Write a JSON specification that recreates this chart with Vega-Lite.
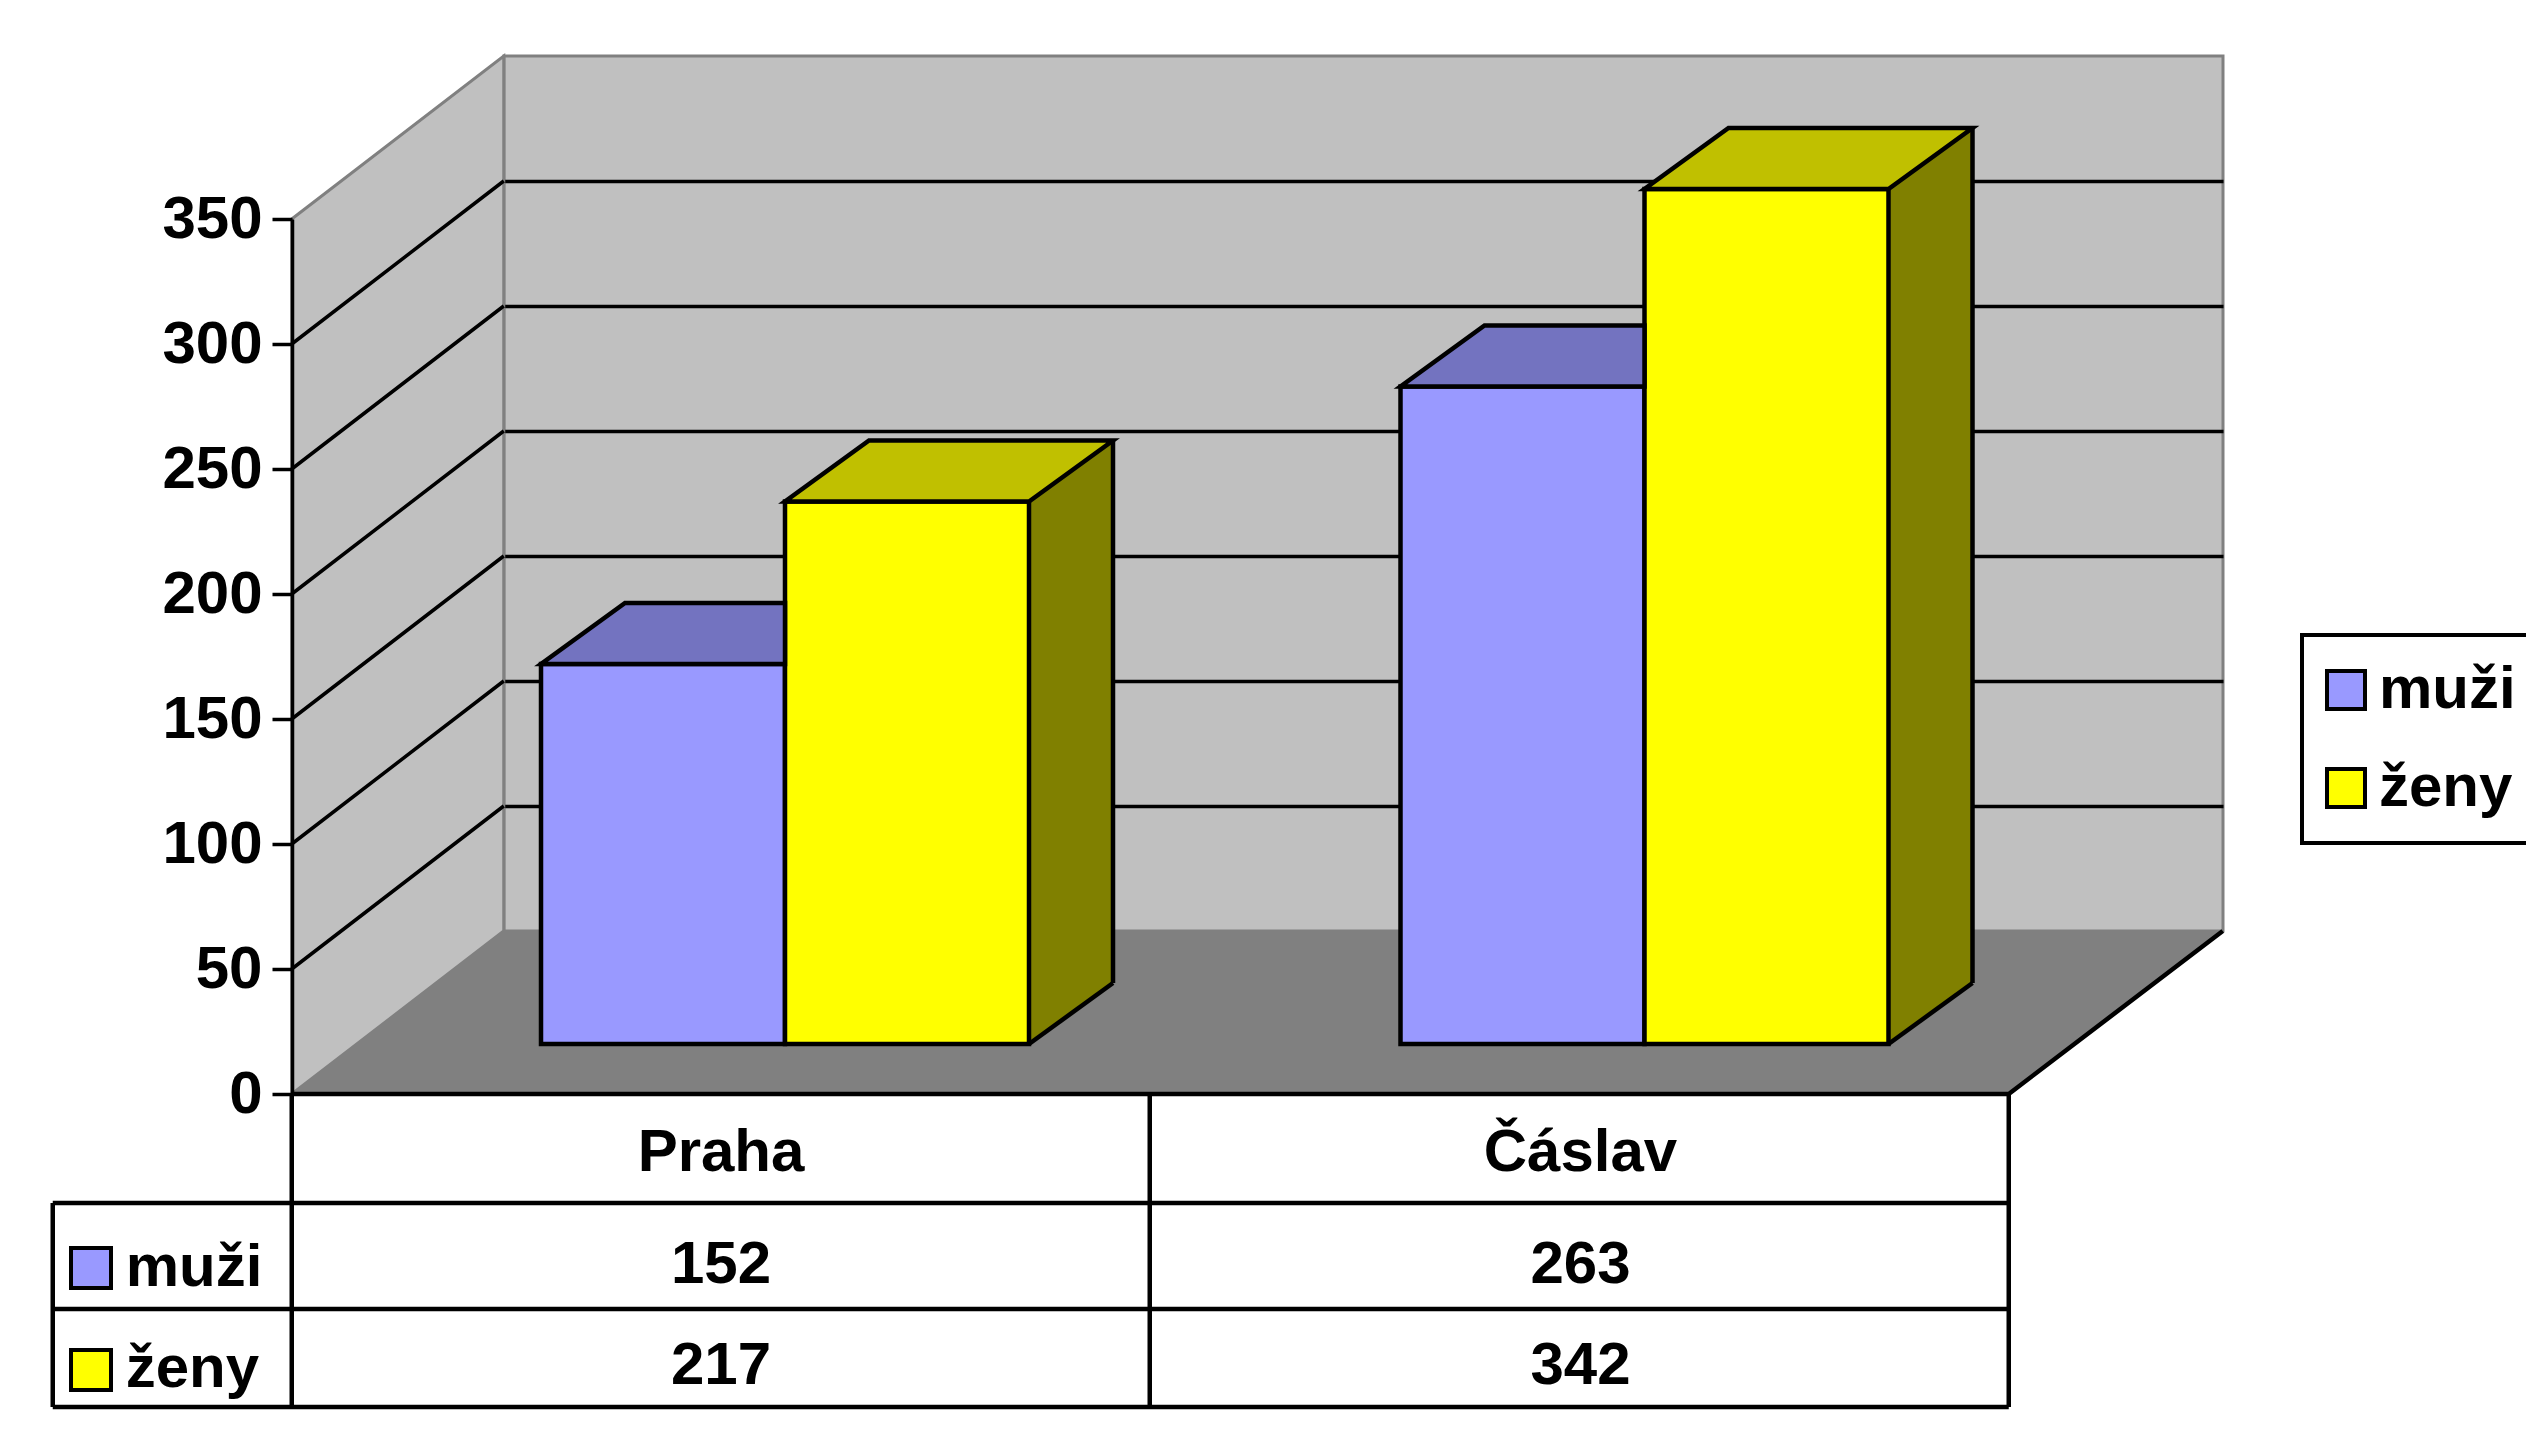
{
  "$schema": "https://vega.github.io/schema/vega-lite/v6.json",
  "width": 1719,
  "height": 875,
  "autosize": {"type": "none"},
  "padding": {"left": 504, "top": 56, "right": 303, "bottom": 506},
  "background": "white",
  "view": {"fill": "#C0C0C0", "stroke": "#808080", "strokeWidth": 3},
  "data": {
    "values": [
      {"mesto": "Praha", "pohlavi": "muži", "pocet": 152},
      {"mesto": "Praha", "pohlavi": "ženy", "pocet": 217},
      {"mesto": "Čáslav", "pohlavi": "muži", "pocet": 263},
      {"mesto": "Čáslav", "pohlavi": "ženy", "pocet": 342}
    ]
  },
  "resolve": {"axis": {"y": "independent"}},
  "config": {
    "font": "Liberation Sans",
    "axisX": {"disable": true},
    "legend": {"strokeWidth": 4}
  },
  "layer": [
    {
      "transform": [{"filter": "datum.mesto === 'Praha' && datum.pohlavi === 'muži'"}],
      "mark": {"type": "point", "shape": "M-642,163L1075,163L1289,0L-430,0Z", "size": 4, "filled": true, "fill": "#808080", "strokeWidth": 0, "opacity": 1},
      "encoding": {
        "x": {"field": "mesto", "type": "nominal", "scale": {"type": "band", "domain": ["Praha", "Čáslav"], "paddingInner": 0, "paddingOuter": 0}, "axis": null},
        "y": {"datum": 0, "type": "quantitative", "scale": {"domain": [0, 350], "nice": false}, "axis": null}
      }
    },
    {
      "transform": [{"filter": "datum.mesto === 'Praha' && datum.pohlavi === 'muži'"}],
      "mark": {"type": "point", "shape": "M-642,-712L-430,-875L-430,0L-642,163Z", "size": 4, "filled": true, "fill": "#C0C0C0", "stroke": "#808080", "strokeWidth": 3, "opacity": 1},
      "encoding": {
        "x": {"field": "mesto", "type": "nominal", "axis": null},
        "y": {"datum": 0, "type": "quantitative", "axis": null}
      }
    },
    {
      "transform": [{"filter": "datum.mesto === 'Praha' && datum.pohlavi === 'muži'"}],
      "mark": {"type": "point", "shape": "M-642,38L-430,-125M-642,-87L-430,-250M-642,-212L-430,-375M-642,-337L-430,-500M-642,-462L-430,-625M-642,-587L-430,-750", "size": 4, "filled": false, "stroke": "black", "strokeWidth": 3.5, "opacity": 1},
      "encoding": {
        "x": {"field": "mesto", "type": "nominal", "axis": null},
        "y": {"datum": 0, "type": "quantitative", "axis": null}
      }
    },
    {
      "transform": [{"filter": "datum.pohlavi === 'ženy'"}],
      "mark": {"type": "bar", "width": 244, "xOffset": 57.25, "yOffset": 52, "y2Offset": 52, "fill": "#808000", "strokeWidth": 0},
      "encoding": {
        "x": {"field": "mesto", "type": "nominal", "axis": null},
        "y": {"field": "pocet", "type": "quantitative", "axis": null}
      }
    },
    {
      "transform": [{"filter": "datum.pohlavi === 'ženy'"}],
      "mark": {"type": "point", "shape": "M122,113L122,52L206,52Z", "size": 4, "filled": true, "fill": "#808000", "strokeWidth": 0, "xOffset": -26.75, "opacity": 1},
      "encoding": {
        "x": {"field": "mesto", "type": "nominal", "axis": null},
        "y": {"datum": 0, "type": "quantitative", "axis": null}
      }
    },
    {
      "transform": [{"filter": "datum.pohlavi === 'ženy'"}],
      "mark": {"type": "point", "shape": "M122,113L206,52", "size": 4, "filled": false, "stroke": "black", "strokeWidth": 4.5, "xOffset": -26.75, "opacity": 1},
      "encoding": {
        "x": {"field": "mesto", "type": "nominal", "axis": null},
        "y": {"datum": 0, "type": "quantitative", "axis": null}
      }
    },
    {
      "transform": [{"filter": "datum.pohlavi === 'ženy'"}],
      "mark": {"type": "rule", "xOffset": 179.25, "yOffset": 52, "y2Offset": 52, "stroke": "black", "strokeWidth": 4.5},
      "encoding": {
        "x": {"field": "mesto", "type": "nominal", "axis": null},
        "y": {"field": "pocet", "type": "quantitative", "axis": null},
        "y2": {"datum": 0}
      }
    },
    {
      "transform": [{"filter": "datum.pohlavi === 'muži'"}],
      "mark": {"type": "bar", "width": 244, "xOffset": -270.75, "yOffset": 113, "y2Offset": 113, "stroke": "black", "strokeWidth": 4.5},
      "encoding": {
        "x": {"field": "mesto", "type": "nominal", "axis": null},
        "y": {"field": "pocet", "type": "quantitative", "axis": {"orient": "left", "grid": true, "gridColor": "black", "gridWidth": 3.5, "labels": false, "ticks": false, "domain": false, "title": null, "values": [50, 100, 150, 200, 250, 300]}},
        "color": {
          "field": "pohlavi", "type": "nominal",
          "scale": {"domain": ["muži", "ženy"], "range": ["#9999FF", "#FFFF00"]},
          "legend": {"title": null, "orient": "none", "legendX": 1798, "legendY": 579, "symbolType": "square", "symbolSize": 1444, "symbolStrokeColor": "black", "symbolStrokeWidth": 4, "symbolOpacity": 1, "symbolOffset": -11, "labelFontSize": 60, "labelFontWeight": "bold", "labelColor": "black", "labelFont": "Liberation Sans", "padding": 25, "rowPadding": 38, "labelOffset": 3, "strokeColor": "black", "fillColor": "white", "labelLimit": 400}
        }
      }
    },
    {
      "transform": [{"filter": "datum.pohlavi === 'ženy'"}],
      "mark": {"type": "bar", "width": 244, "xOffset": -26.75, "yOffset": 113, "y2Offset": 113, "stroke": "black", "strokeWidth": 4.5},
      "encoding": {
        "x": {"field": "mesto", "type": "nominal", "axis": null},
        "y": {"field": "pocet", "type": "quantitative", "axis": {"orient": "left", "grid": false, "values": [0, 50, 100, 150, 200, 250, 300, 350], "offset": 212, "position": 163, "domainColor": "black", "domainWidth": 3.5, "tickColor": "black", "tickWidth": 3.5, "tickSize": 20, "labelFontSize": 60, "labelFontWeight": "bold", "labelColor": "black", "labelFont": "Liberation Sans", "labelPadding": 10, "labelFlush": false, "labelOverlap": false, "title": null, "zindex": 3}},
        "color": {"field": "pohlavi", "type": "nominal"}
      }
    },
    {
      "transform": [{"filter": "datum.pohlavi === 'muži'"}],
      "mark": {"type": "point", "shape": "M-122,113L122,113L122,52L-38,52Z", "size": 4, "filled": true, "fill": "#7373C0", "stroke": "black", "strokeWidth": 4.5, "xOffset": -270.75, "opacity": 1},
      "encoding": {
        "x": {"field": "mesto", "type": "nominal", "axis": null},
        "y": {"field": "pocet", "type": "quantitative", "axis": null}
      }
    },
    {
      "transform": [{"filter": "datum.pohlavi === 'ženy'"}],
      "mark": {"type": "point", "shape": "M-122,113L122,113L206,52L-38,52Z", "size": 4, "filled": true, "fill": "#C0C000", "stroke": "black", "strokeWidth": 4.5, "xOffset": -26.75, "opacity": 1},
      "encoding": {
        "x": {"field": "mesto", "type": "nominal", "axis": null},
        "y": {"field": "pocet", "type": "quantitative", "axis": null}
      }
    },
    {
      "transform": [{"filter": "datum.mesto === 'Praha' && datum.pohlavi === 'muži'"}],
      "mark": {"type": "point", "shape": "M-642,163L1075,163M-881,272L1075,272M-881,378L1075,378M-881,476L1075,476M-881,272L-881,476M-642,163L-642,476M216,163L216,476M1075,163L1075,476M1075,163L1289,0", "size": 4, "filled": false, "stroke": "black", "strokeWidth": 4.5, "opacity": 1},
      "encoding": {
        "x": {"field": "mesto", "type": "nominal", "axis": null},
        "y": {"datum": 0, "type": "quantitative", "axis": null}
      }
    },
    {
      "transform": [{"filter": "datum.pohlavi === 'muži'"}],
      "mark": {"type": "text", "xOffset": -212.75, "yOffset": 240, "baseline": "alphabetic", "align": "center", "fontSize": 60, "fontWeight": "bold", "fill": "black"},
      "encoding": {
        "x": {"field": "mesto", "type": "nominal", "axis": null},
        "y": {"datum": 0, "type": "quantitative", "axis": null},
        "text": {"field": "mesto"}
      }
    },
    {
      "transform": [{"filter": "datum.pohlavi === 'muži'"}],
      "mark": {"type": "text", "xOffset": -212.75, "yOffset": 352, "baseline": "alphabetic", "align": "center", "fontSize": 60, "fontWeight": "bold", "fill": "black"},
      "encoding": {
        "x": {"field": "mesto", "type": "nominal", "axis": null},
        "y": {"datum": 0, "type": "quantitative", "axis": null},
        "text": {"field": "pocet"}
      }
    },
    {
      "transform": [{"filter": "datum.pohlavi === 'ženy'"}],
      "mark": {"type": "text", "xOffset": -212.75, "yOffset": 453, "baseline": "alphabetic", "align": "center", "fontSize": 60, "fontWeight": "bold", "fill": "black"},
      "encoding": {
        "x": {"field": "mesto", "type": "nominal", "axis": null},
        "y": {"datum": 0, "type": "quantitative", "axis": null},
        "text": {"field": "pocet"}
      }
    },
    {
      "transform": [{"filter": "datum.mesto === 'Praha' && datum.pohlavi === 'muži'"}],
      "mark": {"type": "text", "xOffset": -808, "yOffset": 355, "baseline": "alphabetic", "align": "left", "fontSize": 60, "fontWeight": "bold", "fill": "black"},
      "encoding": {
        "x": {"field": "mesto", "type": "nominal", "axis": null},
        "y": {"datum": 0, "type": "quantitative", "axis": null},
        "text": {"field": "pohlavi"}
      }
    },
    {
      "transform": [{"filter": "datum.mesto === 'Praha' && datum.pohlavi === 'ženy'"}],
      "mark": {"type": "text", "xOffset": -808, "yOffset": 456, "baseline": "alphabetic", "align": "left", "fontSize": 60, "fontWeight": "bold", "fill": "black"},
      "encoding": {
        "x": {"field": "mesto", "type": "nominal", "axis": null},
        "y": {"datum": 0, "type": "quantitative", "axis": null},
        "text": {"field": "pohlavi"}
      }
    },
    {
      "transform": [{"filter": "datum.mesto === 'Praha' && datum.pohlavi === 'muži'"}],
      "mark": {"type": "point", "shape": "square", "size": 1600, "filled": true, "fill": "#9999FF", "stroke": "black", "strokeWidth": 4, "xOffset": -842.75, "yOffset": 337, "opacity": 1},
      "encoding": {
        "x": {"field": "mesto", "type": "nominal", "axis": null},
        "y": {"datum": 0, "type": "quantitative", "axis": null}
      }
    },
    {
      "transform": [{"filter": "datum.mesto === 'Praha' && datum.pohlavi === 'ženy'"}],
      "mark": {"type": "point", "shape": "square", "size": 1600, "filled": true, "fill": "#FFFF00", "stroke": "black", "strokeWidth": 4, "xOffset": -842.75, "yOffset": 439, "opacity": 1},
      "encoding": {
        "x": {"field": "mesto", "type": "nominal", "axis": null},
        "y": {"datum": 0, "type": "quantitative", "axis": null}
      }
    }
  ]
}
